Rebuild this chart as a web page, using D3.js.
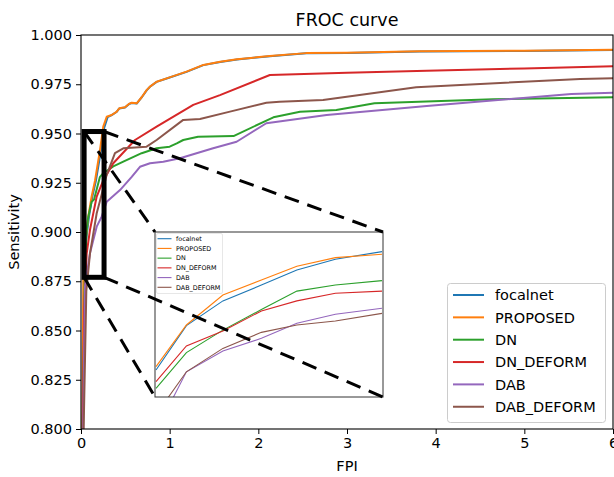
<!DOCTYPE html>
<html><head><meta charset="utf-8">
<script src="https://cdn.jsdelivr.net/npm/d3@7/dist/d3.min.js"></script>
<style>body{margin:0;background:#fff;} text{font-family:"DejaVu Sans",sans-serif;fill:#000;}</style>
</head><body><svg id="c" width="614" height="477"></svg>
<script>
// ---------------- DATA ----------------
const seriesNames = ["focalnet", "PROPOSED", "DN", "DN_DEFORM", "DAB", "DAB_DEFORM"];
const seriesColors = ["#1f77b4", "#ff7f0e", "#2ca02c", "#d62728", "#9467bd", "#8c564b"];
const xTicks = [0, 1, 2, 3, 4, 5, 6];
const yTicks = [0.800, 0.825, 0.850, 0.875, 0.900, 0.925, 0.950, 0.975, 1.000];
const titleText = "FROC curve";
const xLabel = "FPI";
const yLabel = "Sensitivity";

// main plot series (FPI, sensitivity)
const focalnetFPI  = [0.005, 0.018, 0.032, 0.062, 0.09, 0.128, 0.168, 0.226, 0.262, 0.30, 0.346, 0.40, 0.432, 0.496, 0.54, 0.572, 0.628, 0.684, 0.74, 0.778, 0.853, 1.0, 1.19, 1.38, 1.57, 1.76, 2.13, 2.54, 3.0, 3.82, 5.0, 6.0];
const focalnetSens = [0.55, 0.80, 0.8756, 0.8976, 0.9078, 0.918, 0.926, 0.9416, 0.9530, 0.9583, 0.9593, 0.9609, 0.9627, 0.9632, 0.9649, 0.9655, 0.9652, 0.9683, 0.9719, 0.9737, 0.9762, 0.9784, 0.9813, 0.9847, 0.9863, 0.9876, 0.9892, 0.9907, 0.9909, 0.9916, 0.9919, 0.9924];
const proposedFPI  = [0.005, 0.015, 0.026, 0.056, 0.082, 0.12, 0.158, 0.214, 0.251, 0.29, 0.346, 0.40, 0.432, 0.496, 0.54, 0.572, 0.628, 0.684, 0.74, 0.778, 0.853, 1.0, 1.19, 1.38, 1.57, 1.76, 2.13, 2.54, 3.0, 3.82, 5.0, 6.0];
const proposedSens = [0.55, 0.80, 0.8756, 0.8976, 0.9078, 0.918, 0.926, 0.9416, 0.9535, 0.9585, 0.9594, 0.961, 0.9628, 0.9633, 0.965, 0.9656, 0.9653, 0.9684, 0.9720, 0.9738, 0.9763, 0.9785, 0.9814, 0.9848, 0.9864, 0.9877, 0.9893, 0.9908, 0.9910, 0.9917, 0.9920, 0.9925];
const dnFPI  = [0.005, 0.02, 0.045, 0.064, 0.082, 0.12, 0.147, 0.214, 0.251, 0.364, 0.477, 0.684, 0.853, 1.0, 1.08, 1.153, 1.32, 1.72, 2.17, 2.47, 2.88, 3.31, 4.65, 6.0];
const dnSens = [0.50, 0.80, 0.8858, 0.901, 0.9078, 0.9154, 0.9165, 0.928, 0.9298, 0.9333, 0.9357, 0.940, 0.9425, 0.9433, 0.945, 0.9467, 0.9484, 0.9487, 0.9582, 0.961, 0.9619, 0.9653, 0.9674, 0.9684];
const dnDeformFPI  = [0.005, 0.02, 0.035, 0.064, 0.101, 0.177, 0.251, 0.364, 0.609, 0.853, 1.266, 1.567, 2.13, 3.0, 3.9, 5.0, 6.0];
const dnDeformSens = [0.50, 0.80, 0.86, 0.889, 0.901, 0.918, 0.9262, 0.9349, 0.9467, 0.9535, 0.9645, 0.9695, 0.9797, 0.9808, 0.9819, 0.983, 0.9841];
const dabFPI  = [0.005, 0.025, 0.045, 0.101, 0.177, 0.233, 0.29, 0.44, 0.572, 0.665, 0.778, 0.928, 1.116, 1.49, 1.755, 2.09, 2.77, 3.9, 5.53, 6.0];
const dabSens = [0.45, 0.80, 0.8722, 0.8892, 0.9027, 0.9078, 0.9154, 0.9213, 0.928, 0.9331, 0.9349, 0.9357, 0.9374, 0.9425, 0.9458, 0.9552, 0.9594, 0.964, 0.970, 0.9707];
const dabDeformFPI  = [0.005, 0.03, 0.06, 0.101, 0.177, 0.233, 0.29, 0.383, 0.477, 0.74, 0.853, 1.153, 1.342, 1.68, 2.09, 2.24, 2.73, 3.78, 5.63, 6.0];
const dabDeformSens = [0.45, 0.80, 0.87, 0.889, 0.9095, 0.919, 0.929, 0.940, 0.9425, 0.9433, 0.9467, 0.9569, 0.9574, 0.9611, 0.9656, 0.9661, 0.967, 0.9735, 0.9777, 0.978];

// zoomed inset series
const insetFPI = [0.036, 0.066, 0.102, 0.140, 0.175, 0.213, 0.259];
const insetFocalnet  = [0.8891, 0.9090, 0.9201, 0.9272, 0.9340, 0.9388, 0.9422];
const insetProposed  = [0.8906, 0.9093, 0.9227, 0.9295, 0.9356, 0.9395, 0.9410];
const insetDN        = [0.8809, 0.8969, 0.9070, 0.9162, 0.9245, 0.9272, 0.9292];
const insetDNDeform  = [0.8839, 0.8999, 0.9066, 0.9156, 0.9201, 0.9235, 0.9245];
const insetDAB       = [0.8617, 0.8883, 0.8976, 0.9033, 0.9101, 0.9141, 0.9168];
const insetDABDeform = [0.8691, 0.8883, 0.8988, 0.9060, 0.9093, 0.9111, 0.9145];
const insetXLim = [0.035, 0.26];
const insetYLim = [0.877, 0.951];

// ---------------- DRAW ----------------
const mainFPI = [focalnetFPI, proposedFPI, dnFPI, dnDeformFPI, dabFPI, dabDeformFPI];
const mainSens = [focalnetSens, proposedSens, dnSens, dnDeformSens, dabSens, dabDeformSens];
const insetSens = [insetFocalnet, insetProposed, insetDN, insetDNDeform, insetDAB, insetDABDeform];

const svg = d3.select("#c");
const L = 81, R = 613, T = 35, B = 429;
const x = d3.scaleLinear().domain([0, 6]).range([L, R]);
const y = d3.scaleLinear().domain([0.8, 1.0]).range([B, T]);

svg.append("rect").attr("x", 0).attr("y", 0).attr("width", 614).attr("height", 477).attr("fill", "#fff");

svg.append("defs").append("clipPath").attr("id", "mainClip")
  .append("rect").attr("x", L).attr("y", T).attr("width", R - L).attr("height", B - T);

const line = d3.line().x(d => x(d[0])).y(d => y(d[1]));
const gLines = svg.append("g").attr("clip-path", "url(#mainClip)");
seriesNames.forEach((n, i) => {
  const pts = mainFPI[i].map((f, j) => [f, mainSens[i][j]]);
  gLines.append("path").attr("d", line(pts)).attr("fill", "none")
    .attr("stroke", seriesColors[i]).attr("stroke-width", 2).attr("stroke-linejoin", "round");
});

// axes
const fs = 14.5;
const gx = svg.append("g").attr("transform", `translate(0,${B})`)
  .call(d3.axisBottom(x).tickValues(xTicks).tickFormat(d3.format("d")).tickSize(5).tickPadding(4));
const gy = svg.append("g").attr("transform", `translate(${L},0)`)
  .call(d3.axisLeft(y).tickValues(yTicks).tickFormat(d3.format(".3f")).tickSize(5).tickPadding(4));
[gx, gy].forEach(g => {
  g.selectAll("text").attr("font-size", fs).attr("font-family", "DejaVu Sans").attr("fill", "#000");
  g.selectAll("line").attr("stroke", "#000").attr("stroke-width", 1);
  g.select(".domain").remove();
});
// spines
svg.append("rect").attr("x", L).attr("y", T).attr("width", R - L).attr("height", B - T)
  .attr("fill", "none").attr("stroke", "#000").attr("stroke-width", 1.1);

svg.append("text").attr("x", (L + R) / 2).attr("y", 26).attr("text-anchor", "middle")
  .attr("font-size", 17.5).text(titleText);
svg.append("text").attr("x", (L + R) / 2).attr("y", 471).attr("text-anchor", "middle")
  .attr("font-size", fs).text(xLabel);
svg.append("text").attr("transform", `translate(19,${(T + B) / 2}) rotate(-90)`).attr("text-anchor", "middle")
  .attr("font-size", fs).text(yLabel);

// inset indicator rectangle
svg.append("rect").attr("x", x(insetXLim[0])).attr("y", y(insetYLim[1]))
  .attr("width", x(insetXLim[1]) - x(insetXLim[0])).attr("height", y(insetYLim[0]) - y(insetYLim[1]))
  .attr("fill", "none").attr("stroke", "#000").attr("stroke-width", 5);

// main legend
const lg = svg.append("g");
lg.append("rect").attr("x", 447.5).attr("y", 283.5).attr("width", 158).attr("height", 139).attr("rx", 3)
  .attr("fill", "#fff").attr("fill-opacity", 0.8).attr("stroke", "#ccc").attr("stroke-width", 1);
seriesNames.forEach((n, i) => {
  const yy = 295 + i * 22.35;
  lg.append("line").attr("x1", 453).attr("x2", 484).attr("y1", yy).attr("y2", yy)
    .attr("stroke", seriesColors[i]).attr("stroke-width", 2);
  lg.append("text").attr("x", 495).attr("y", yy).attr("dy", "0.36em").attr("font-size", fs).text(n);
});

// inset axes
const iL = 155, iR = 383, iT = 232, iB = 397;
const ix = d3.scaleLinear().domain(insetXLim).range([iL, iR]);
const iy = d3.scaleLinear().domain(insetYLim).range([iB, iT]);
svg.append("rect").attr("x", iL).attr("y", iT).attr("width", iR - iL).attr("height", iB - iT).attr("fill", "#fff");
svg.select("defs").append("clipPath").attr("id", "insetClip")
  .append("rect").attr("x", iL).attr("y", iT).attr("width", iR - iL).attr("height", iB - iT);
const iline = d3.line().x(d => ix(d[0])).y(d => iy(d[1]));
const gi = svg.append("g").attr("clip-path", "url(#insetClip)");
seriesNames.forEach((n, i) => {
  const pts = insetFPI.map((f, j) => [f, insetSens[i][j]]);
  gi.append("path").attr("d", iline(pts)).attr("fill", "none")
    .attr("stroke", seriesColors[i]).attr("stroke-width", 1.1);
});
svg.append("rect").attr("x", iL).attr("y", iT).attr("width", iR - iL).attr("height", iB - iT)
  .attr("fill", "none").attr("stroke", "#333").attr("stroke-width", 1);
// inset legend
const ilg = svg.append("g");
ilg.append("rect").attr("x", 156.5).attr("y", 233.5).attr("width", 66).attr("height", 60).attr("rx", 1.5)
  .attr("fill", "#fff").attr("fill-opacity", 0.8).attr("stroke", "#ddd").attr("stroke-width", 0.7);
seriesNames.forEach((n, i) => {
  const yy = 238.7 + i * 9.72;
  ilg.append("line").attr("x1", 157.5).attr("x2", 171.5).attr("y1", yy).attr("y2", yy)
    .attr("stroke", seriesColors[i]).attr("stroke-width", 1.1);
  ilg.append("text").attr("x", 176).attr("y", yy).attr("dy", "0.36em").attr("font-size", 6.4).text(n);
});

// connector dashed lines
const rx0 = x(insetXLim[0]), rx1 = x(insetXLim[1]), ry0 = y(insetYLim[1]), ry1 = y(insetYLim[0]);
const conns = [[rx0, ry0, iL, iT], [rx1, ry0, iR, iT], [rx0, ry1, iL, iB], [rx1, ry1, iR, iB]];
conns.forEach(c => {
  svg.append("line").attr("x1", c[0]).attr("y1", c[1]).attr("x2", c[2]).attr("y2", c[3])
    .attr("stroke", "#000").attr("stroke-width", 3).attr("stroke-dasharray", "15,9");
});
</script></body></html>
